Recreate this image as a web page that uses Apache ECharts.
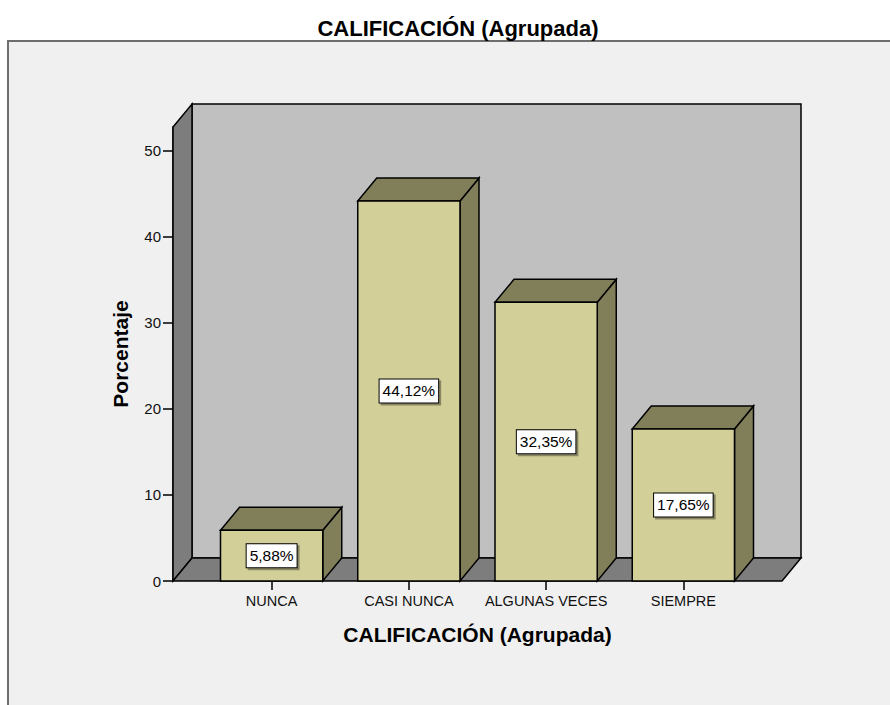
<!DOCTYPE html>
<html>
<head>
<meta charset="utf-8">
<script src="https://cdn.jsdelivr.net/npm/echarts@6/dist/echarts.min.js"></script>
<style>
  html, body { margin: 0; padding: 0; background: #fff; }
  #main { width: 890px; height: 705px; }
</style>
</head>
<body>
<div id="main"></div>
<script>
var categories = ['NUNCA', 'CASI NUNCA', 'ALGUNAS VECES', 'SIEMPRE'];
var percents = [5.88, 44.12, 32.35, 17.65];
var yTicks = [0, 10, 20, 30, 40, 50];
var yMax = 52.7;

var FONT = "'Liberation Sans', Arial, sans-serif";
var DX = 19, DY = -23;      // profundidad 3D
var PAD = 30;               // margen de las paredes fuera de las categorias

var myChart = echarts.init(document.getElementById('main'), null, { renderer: 'svg' });

function fmt(v) {
    return v.toFixed(2).replace('.', ',') + '%';
}

// paredes: fondo, lateral izquierda y suelo
function renderWalls(params, api) {
    var p0 = api.coord([0, 0]);
    var bw = api.size([1, 0])[0];
    var top = api.coord([0, yMax])[1];
    var x0 = p0[0] - bw / 2 - PAD;
    var x1 = p0[0] + (categories.length - 0.5) * bw + PAD;
    var y0 = p0[1];
    var line = { stroke: '#000', lineWidth: 1.5 };
    return {
        type: 'group',
        children: [
            { type: 'polygon', shape: { points: [[x0 + DX, y0 + DY], [x1 + DX, y0 + DY], [x1 + DX, top + DY], [x0 + DX, top + DY]] },
              style: Object.assign({ fill: '#c0c0c0' }, line) },
            { type: 'polygon', shape: { points: [[x0, y0], [x0, top], [x0 + DX, top + DY], [x0 + DX, y0 + DY]] },
              style: Object.assign({ fill: '#7d7d7d' }, line) },
            { type: 'polygon', shape: { points: [[x0, y0], [x1, y0], [x1 + DX, y0 + DY], [x0 + DX, y0 + DY]] },
              style: Object.assign({ fill: '#7d7d7d' }, line) }
        ]
    };
}

function renderBar(params, api) {
    var base = api.coord([api.value(0), 0]);
    var tp = api.coord([api.value(0), api.value(1)]);
    var w = api.size([1, 0])[0] * 0.745;
    var xl = base[0] - w / 2, xr = base[0] + w / 2;
    var yb = base[1], yt = tp[1];
    var line = { stroke: '#000', lineWidth: 1.5 };
    return {
        type: 'group',
        children: [
            { type: 'polygon', shape: { points: [[xr, yt], [xr, yb], [xr + DX, yb + DY], [xr + DX, yt + DY]] },
              style: Object.assign({ fill: '#817e5a' }, line) },
            { type: 'polygon', shape: { points: [[xl, yt], [xr, yt], [xr + DX, yt + DY], [xl + DX, yt + DY]] },
              style: Object.assign({ fill: '#817e5a' }, line) },
            { type: 'rect', shape: { x: xl, y: yt, width: w, height: yb - yt },
              style: Object.assign({ fill: '#d3cf98' }, line) },
            { type: 'text', z2: 10,
              style: {
                  text: fmt(api.value(1)), x: base[0], y: (yt + yb) / 2,
                  align: 'center', verticalAlign: 'middle',
                  fill: '#000', fontSize: 15.5, fontFamily: FONT,
                  backgroundColor: '#fff', borderColor: '#000', borderWidth: 1,
                  padding: [4, 3, 3, 3],
                  shadowColor: 'rgba(0,0,0,0.35)', shadowOffsetX: 2, shadowOffsetY: 2, shadowBlur: 0
              } }
        ]
    };
}

var barData = [];
for (var i = 0; i < categories.length; i++) {
    barData.push([i, percents[i]]);
}

myChart.setOption({
    animation: false,
    backgroundColor: '#fff',
    title: {
        text: 'CALIFICACIÓN (Agrupada)',
        left: 453,
        textAlign: 'center',
        top: 12,
        textStyle: { fontFamily: FONT, fontSize: 22, fontWeight: 'bold', color: '#000' }
    },
    graphic: [{
        type: 'rect', z: -10, silent: true,
        shape: { x: 8, y: 41, width: 900, height: 700 },
        style: { fill: '#f0f0f0', stroke: '#6e6e6e', lineWidth: 2 }
    }],
    grid: { left: 203, right: 138, top: 127, bottom: 124 },
    xAxis: {
        type: 'category',
        data: categories,
        name: 'CALIFICACIÓN (Agrupada)',
        nameLocation: 'middle',
        nameGap: 43,
        nameTextStyle: { fontFamily: FONT, fontSize: 21, fontWeight: 'bold', color: '#000' },
        axisLine: { show: false },
        axisTick: { show: true, alignWithLabel: true, interval: 0, length: 9, lineStyle: { color: '#000', width: 1.5 } },
        axisLabel: { interval: 0, margin: 12, fontFamily: FONT, fontSize: 14.5, color: '#111' },
        splitLine: { show: false }
    },
    yAxis: {
        type: 'value',
        min: 0,
        max: yMax,
        offset: PAD,
        name: 'Porcentaje',
        nameLocation: 'middle',
        nameGap: 42,
        nameTextStyle: { fontFamily: FONT, fontSize: 21, fontWeight: 'bold', color: '#000' },
        axisLine: { show: true, lineStyle: { color: '#000', width: 1.5 } },
        axisTick: { show: true, length: 10, customValues: yTicks, lineStyle: { color: '#000', width: 1.5 } },
        axisLabel: { margin: 12, customValues: yTicks, fontFamily: FONT, fontSize: 15, color: '#111' },
        splitLine: { show: false }
    },
    series: [
        { type: 'custom', name: 'paredes', silent: true, z: 1, clip: false,
          renderItem: renderWalls, data: [[0, 0]] },
        { type: 'custom', name: 'Porcentaje', z: 2, clip: false,
          renderItem: renderBar, encode: { x: 0, y: 1 }, data: barData }
    ]
});
</script>
</body>
</html>
